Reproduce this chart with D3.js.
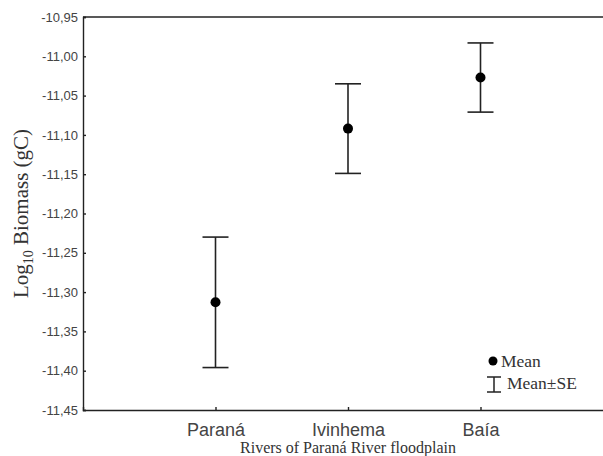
<!DOCTYPE html>
<html>
<head>
<meta charset="utf-8">
<script src="https://cdn.jsdelivr.net/npm/d3@7"></script>
<style>
  html, body { margin: 0; padding: 0; background: #fff; }
  svg { display: block; }
  .tick text { font-family: "Liberation Sans", Arial, sans-serif; fill: #444; }
  .serif { font-family: "Liberation Serif", "Times New Roman", serif; fill: #333; }
</style>
</head>
<body>
<div id="chart"></div>
<script>
// data
const rivers = ['Paraná', 'Ivinhema', 'Baía'];
const means = [-11.313, -11.092, -11.027];
const se = [0.083, 0.057, 0.044];
const yTicks = [-11.45, -11.40, -11.35, -11.30, -11.25, -11.20, -11.15, -11.10, -11.05, -11.00, -10.95];

const W = 603, H = 456;
const margin = { top: 17, right: -10, bottom: 46, left: 83 };

const svg = d3.select('#chart').append('svg')
  .attr('width', W)
  .attr('height', H);

const x = d3.scalePoint()
  .domain(rivers)
  .range([margin.left, W - margin.right])
  .padding(1);

const y = d3.scaleLinear()
  .domain([-11.45, -10.95])
  .range([H - margin.bottom, margin.top]);

const fmt = (v) => d3.format('.2f')(v).replace('.', ',').replace('−', '-');

// left axis, ticks pointing inward
const yAxis = svg.append('g')
  .attr('transform', 'translate(' + margin.left + ',0)')
  .call(d3.axisLeft(y).tickValues(yTicks).tickFormat(fmt).tickSize(-3).tickPadding(5));
yAxis.selectAll('text').style('font-size', '13px');

// bottom axis
const xAxis = svg.append('g')
  .attr('transform', 'translate(0,' + (H - margin.bottom) + ')')
  .call(d3.axisBottom(x).tickSize(-3).tickPadding(13));
xAxis.selectAll('text').style('font-size', '18px').attr('dy', '0.71em').attr('fill', '#333');

svg.selectAll('.domain, .tick line')
  .attr('stroke', '#222')
  .attr('stroke-width', 1.4);

// top border
svg.append('line')
  .attr('x1', margin.left).attr('x2', W)
  .attr('y1', margin.top).attr('y2', margin.top)
  .attr('stroke', '#222')
  .attr('stroke-width', 1.4);

// error bars
const capW = 13;
const bars = svg.append('g')
  .selectAll('g')
  .data(rivers)
  .join('g')
  .attr('stroke', '#222')
  .attr('stroke-width', 1.6);

bars.append('line')
  .attr('x1', (d) => x(d)).attr('x2', (d) => x(d))
  .attr('y1', (d, i) => y(means[i] + se[i]))
  .attr('y2', (d, i) => y(means[i] - se[i]));
bars.append('line')
  .attr('x1', (d) => x(d) - capW).attr('x2', (d) => x(d) + capW)
  .attr('y1', (d, i) => y(means[i] + se[i]))
  .attr('y2', (d, i) => y(means[i] + se[i]));
bars.append('line')
  .attr('x1', (d) => x(d) - capW).attr('x2', (d) => x(d) + capW)
  .attr('y1', (d, i) => y(means[i] - se[i]))
  .attr('y2', (d, i) => y(means[i] - se[i]));

svg.append('g')
  .selectAll('circle')
  .data(rivers)
  .join('circle')
  .attr('cx', (d) => x(d))
  .attr('cy', (d, i) => y(means[i]))
  .attr('r', 5)
  .attr('fill', '#000');

// axis titles
svg.append('text')
  .attr('class', 'serif')
  .attr('x', x('Ivinhema'))
  .attr('y', 453)
  .attr('text-anchor', 'middle')
  .style('font-size', '16px')
  .text('Rivers of Paraná River floodplain');

const yt = svg.append('text')
  .attr('class', 'serif')
  .attr('transform', 'translate(28,' + ((margin.top + H - margin.bottom) / 2) + ') rotate(-90)')
  .attr('text-anchor', 'middle')
  .style('font-size', '21px');
yt.append('tspan').text('Log');
yt.append('tspan').attr('dy', 5).style('font-size', '14px').text('10');
yt.append('tspan').attr('dy', -5).text(' Biomass (gC)');

// legend
const lg = svg.append('g').attr('transform', 'translate(493,361)');
lg.append('circle').attr('r', 4.5).attr('fill', '#000');
lg.append('text').attr('class', 'serif').attr('x', 8).attr('y', 5.5)
  .style('font-size', '17.5px').text('Mean');
const lgBar = lg.append('g').attr('stroke', '#222').attr('stroke-width', 1.5);
lgBar.append('line').attr('x1', 1).attr('x2', 1).attr('y1', 16).attr('y2', 31);
lgBar.append('line').attr('x1', -6).attr('x2', 8).attr('y1', 16).attr('y2', 16);
lgBar.append('line').attr('x1', -6).attr('x2', 8).attr('y1', 31).attr('y2', 31);
lg.append('text').attr('class', 'serif').attr('x', 14).attr('y', 27.5)
  .style('font-size', '17.5px').text('Mean±SE');
</script>
</body>
</html>
